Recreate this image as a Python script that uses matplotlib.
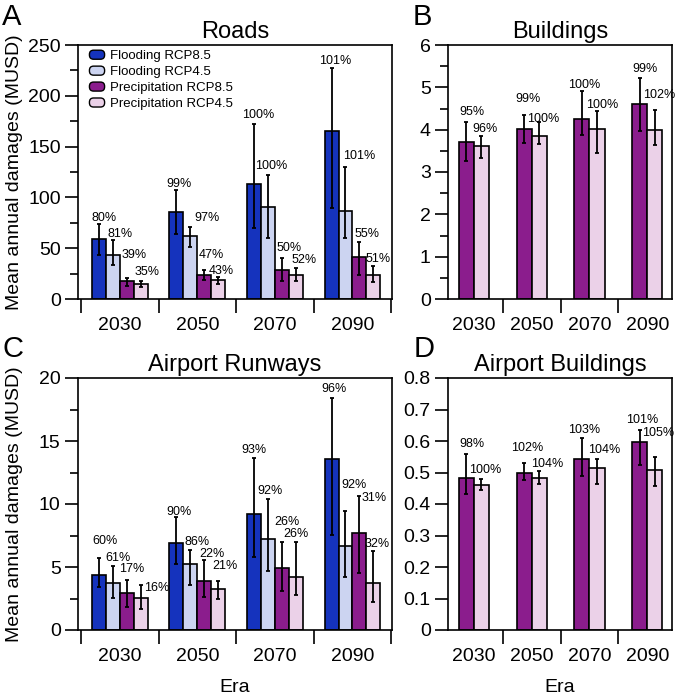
import matplotlib
matplotlib.use("Agg")
import matplotlib.pyplot as plt
import numpy as np
from matplotlib.patches import FancyBboxPatch, Rectangle
from matplotlib.legend_handler import HandlerBase
from matplotlib.ticker import MultipleLocator, FixedLocator

plt.rcParams['font.family'] = ['Liberation Sans', 'DejaVu Sans']

eras = ["2030", "2050", "2070", "2090"]
series_names = ["Flooding RCP8.5", "Flooding RCP4.5", "Precipitation RCP8.5", "Precipitation RCP4.5"]
colors = ["#1533bd", "#ccd4f1", "#8b1d8d", "#ebd1e8"]

# Panel A: Roads (MUSD)
roads_mean = [[59, 85.5, 113.5, 165], [43, 62, 91, 87], [17.4, 23.3, 28.8, 41.3], [14.4, 18.7, 24, 24]]
roads_lo = [[43.6, 63.6, 69.5, 89.5], [33, 51, 60, 59.6], [13, 19, 17.4, 23.3], [11.8, 15, 17.4, 16.4]]
roads_hi = [[74, 107, 172.7, 227], [58, 70.4, 122, 130.4], [21, 28.8, 40.3, 55.7], [17.4, 22, 31, 32]]
roads_pct = [["80%", "99%", "100%", "101%"], ["81%", "97%", "100%", "101%"],
             ["39%", "47%", "50%", "55%"], ["35%", "43%", "52%", "51%"]]

# Panel B: Buildings (precipitation only)
bld_mean = [[3.71, 4.01, 4.25, 4.6], [3.61, 3.84, 4.01, 3.99]]
bld_lo = [[3.26, 3.69, 3.87, 3.97], [3.32, 3.65, 3.46, 3.64]]
bld_hi = [[4.17, 4.34, 4.91, 5.23], [3.84, 4.17, 4.43, 4.47]]
bld_pct = [["95%", "99%", "100%", "99%"], ["96%", "100%", "100%", "102%"]]

# Panel C: Airport Runways
rw_mean = [[4.33, 6.87, 9.19, 13.6], [3.72, 5.23, 7.24, 6.68], [2.93, 3.91, 4.94, 7.71], [2.51, 3.22, 4.23, 3.7]]
rw_lo = [[3.4, 5.2, 5.79, 7.53], [2.54, 3.57, 4.65, 4.17], [1.82, 2.64, 3.06, 4.49], [1.64, 2.46, 2.8, 2.25]]
rw_hi = [[5.7, 8.98, 13.69, 18.4], [5.05, 6.31, 10.38, 9.46], [3.96, 5.55, 6.97, 10.65], [3.57, 3.91, 6.97, 6.29]]
rw_pct = [["60%", "90%", "93%", "96%"], ["61%", "86%", "92%", "92%"],
          ["17%", "22%", "26%", "31%"], ["16%", "21%", "26%", "32%"]]

# Panel D: Airport Buildings
ab_mean = [[0.484, 0.499, 0.544, 0.597], [0.461, 0.484, 0.514, 0.507]]
ab_lo = [[0.433, 0.475, 0.488, 0.523], [0.444, 0.465, 0.465, 0.458]]
ab_hi = [[0.558, 0.529, 0.61, 0.634], [0.478, 0.506, 0.544, 0.548]]
ab_pct = [["98%", "102%", "103%", "101%"], ["100%", "104%", "104%", "105%"]]

# Layout: label nudges (pixels) relative to bar left edge / error-bar top
A_dx = [[0, -3, -4.7, -5], [2, 10.6, -6.4, 4.2], [2, 1.6, 1.3, 1.9], [1, -2.4, 2.3, -1]]
A_dy = [[3.1, 3.6, 5.2, 4.4], [3.4, 6.8, 6, 7.2], [19.4, 11.4, 7.3, 5.1], [6.3, 2.6, 4.2, 4.8]]
B_dx = [[1, -0.7, -6, 0], [-1, -5, -3.5, -4]]
B_dy = [[7.5, 13.6, 2.9, 5.9], [4.8, 0.8, 3.2, 11.5]]
C_dx = [[0, -3, -5.7, -3.4], [-1, 1.3, -4, 2.6], [-1, 1.6, -0.4, 9.6], [10, 1, -5.4, -2]]
C_dy = [[14.2, 1.9, 4.2, 6.5], [5.7, 5.5, 5.2, 22.5], [8.4, 2.7, 17.2, -4.9], [-5.7, 11.4, 5.5, 4]]
D_dx = [[1, -5.7, -6, -6.2], [-4.4, -1, -1.2, -5.7]]
D_dy = [[6.9, 12.4, 4.6, 7.6], [6.1, 3.9, 5.3, 21.4]]

PX = 0.72  # points per pixel at dpi 100


class RoundHandler(HandlerBase):
    def create_artists(self, legend, orig_handle, xdescent, ydescent, width, height, fontsize, trans):
        p = FancyBboxPatch((-xdescent + 1, -ydescent + 1), width - 2, height - 2,
                           boxstyle="round,pad=0,rounding_size=3",
                           facecolor=orig_handle.get_facecolor(), edgecolor="black",
                           linewidth=1.0, transform=trans)
        return [p]


W, H = 677, 695
fig = plt.figure(figsize=(W / 100, H / 100), dpi=100)


def add_ax(l, r, t, b):
    return fig.add_axes([l / W, 1 - b / H, (r - l) / W, (b - t) / H])


axA = add_ax(78, 392, 45, 299)
axB = add_ax(448, 672, 45, 299)
axC = add_ax(78, 392, 378, 630)
axD = add_ax(448, 672, 378, 630)

FS = 14


def draw(ax, means, los, his, pcts, cols, width, ylim, major, minor, title, xlim, dxs, dys):
    n = len(means)
    x = np.arange(1, len(eras) + 1)
    handles = []
    for k in range(n):
        xs = x + (k - (n - 1) / 2) * width
        m = np.array(means[k])
        lo = m - np.array(los[k])
        hi = np.array(his[k]) - m
        b = ax.bar(xs, m, width, color=cols[k], edgecolor="black", linewidth=1.2, zorder=2)
        handles.append(b)
        ax.errorbar(xs, m, yerr=[lo, hi], fmt="none", ecolor="black", elinewidth=1.3,
                    capsize=1.6, capthick=1.3, zorder=3)
        for j, (xi, top, lab) in enumerate(zip(xs, his[k], pcts[k])):
            ax.annotate(lab, (xi - width / 2, top),
                        xytext=(dxs[k][j] * PX, dys[k][j] * PX), textcoords="offset points",
                        ha="left", va="baseline", fontsize=9, zorder=4)
    ax.set_xlim(*xlim)
    ax.set_ylim(*ylim)
    ax.set_xticks(x)
    ax.set_xticklabels(eras)
    ax.xaxis.set_minor_locator(FixedLocator(np.arange(0.5, len(eras) + 0.6, 1.0)))
    ax.tick_params(axis="x", which="major", length=0, pad=13, labelsize=FS)
    ax.tick_params(axis="x", which="minor", length=10, width=1.2, direction="out")
    ax.yaxis.set_major_locator(MultipleLocator(major))
    if minor:
        ax.yaxis.set_minor_locator(MultipleLocator(minor))
    ax.tick_params(axis="y", which="major", length=9.5, width=1.2, direction="out", pad=3, labelsize=FS)
    ax.tick_params(axis="y", which="minor", length=5.5, width=1.2, direction="out")
    for s in ax.spines.values():
        s.set_linewidth(1.2)
    ax.set_title(title, fontsize=17, pad=5)
    return handles


hA = draw(axA, roads_mean, roads_lo, roads_hi, roads_pct, colors, 0.18, (0, 250), 50, 25,
          "Roads", (0.46, 4.51), A_dx, A_dy)
draw(axB, bld_mean, bld_lo, bld_hi, bld_pct, colors[2:], 0.26, (0, 6), 1, 0.5,
     "Buildings", (0.556, 4.425), B_dx, B_dy)
draw(axC, rw_mean, rw_lo, rw_hi, rw_pct, colors, 0.18, (0, 20), 5, 2.5,
     "Airport Runways", (0.46, 4.51), C_dx, C_dy)
draw(axD, ab_mean, ab_lo, ab_hi, ab_pct, colors[2:], 0.26, (0, 0.8), 0.1, None,
     "Airport Buildings", (0.556, 4.425), D_dx, D_dy)

axD.set_yticks(np.arange(0, 0.81, 0.1))
axD.set_yticklabels(["0" if abs(v) < 1e-9 else f"{v:.1f}" for v in np.arange(0, 0.81, 0.1)])

for ax in (axA, axC):
    ax.set_ylabel("Mean annual damages (MUSD)", fontsize=14)
    ax.yaxis.set_label_coords((23 - 78) / 314, 0.5)
axC.set_xlabel("Era", fontsize=FS, labelpad=10)
axD.set_xlabel("Era", fontsize=FS, labelpad=10)

leg = axA.legend([h.patches[0] for h in hA], series_names, loc="upper left",
                 bbox_to_anchor=(0.032, 0.985), frameon=False, fontsize=9.5,
                 handler_map={Rectangle: RoundHandler()},
                 handlelength=1.36, handleheight=1.0, handletextpad=0.3,
                 labelspacing=0.19, borderaxespad=0, borderpad=0)

for lab, (px, py) in zip("ABCD", [(2, 25), (413, 25), (3, 357), (414, 357)]):
    fig.text(px / W, 1 - py / H, lab, fontsize=21, ha="left", va="baseline")

fig.savefig("out.png", dpi=100)
